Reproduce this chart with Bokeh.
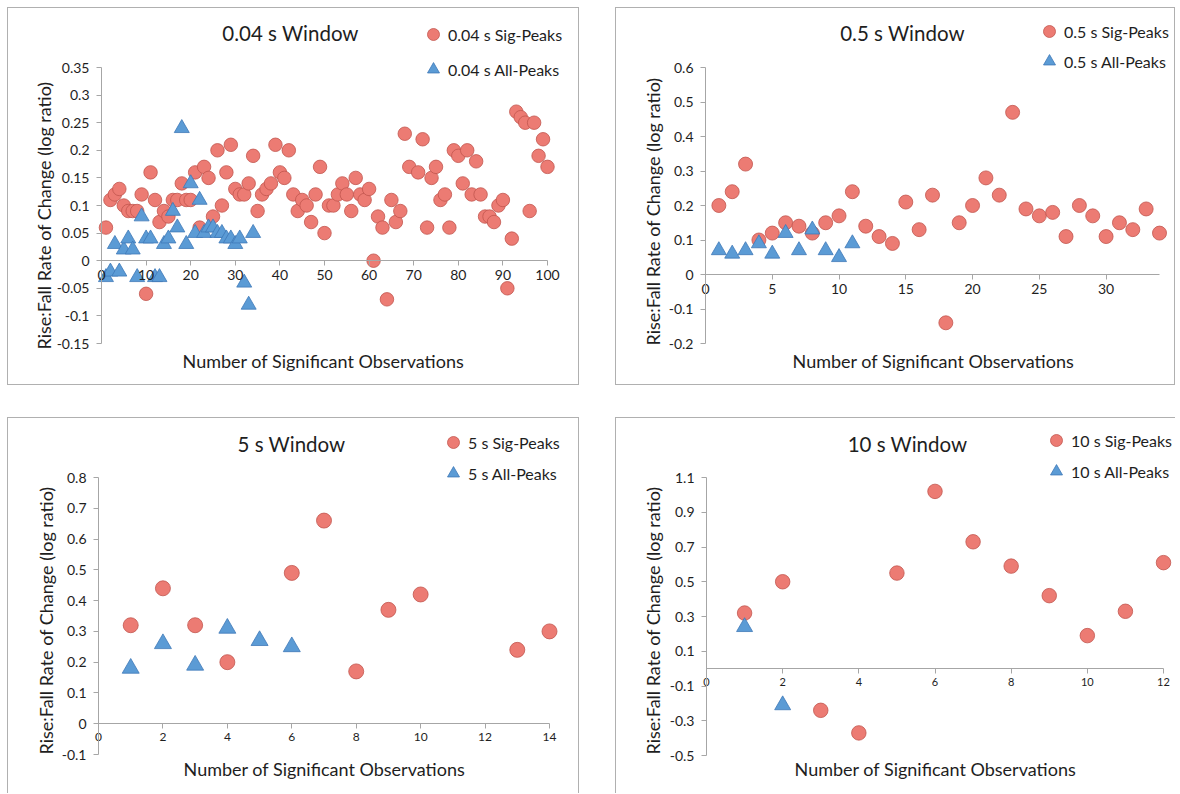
import math
from bokeh.plotting import figure
from bokeh.models import (Range1d, FixedTicker, CustomJSTickFormatter, Label,
                          Legend, LegendItem)
from bokeh.layouts import row, column
from bokeh.embed import file_html
from bokeh.resources import INLINE

FONT = "Lato"
RED_FILL = "#ec7b73"
RED_LINE = "#c2554e"
BLUE_FILL = "#5b9bd5"
BLUE_LINE = "#3f78b8"
AXIS = "#a6a6a6"
TEXT = "#1e1e1e"
BORDER = "#b0b0b0"

Y_TITLE = "Rise:Fall Rate of Change (log ratio)"
X_TITLE = "Number of Significant Observations"

# ---------------- data ----------------
# 0.04 s window
w004_sig_x = [1, 2, 3, 4, 5, 6, 7, 8, 9, 10, 11, 12, 13, 14, 15, 16, 17, 18, 19, 20,
              21, 22, 23, 24, 25, 26, 27, 28, 29, 30, 31, 32, 33, 34, 35, 36, 37, 38, 39, 40,
              41, 42, 43, 44, 45, 46, 47, 48, 49, 50, 51, 52, 53, 54, 55, 56, 57, 58, 59, 60,
              61, 62, 63, 64, 65, 66, 67, 68, 69, 71, 72, 73, 74, 75, 76, 77, 78, 79, 80,
              81, 82, 83, 84, 85, 86, 87, 88, 89, 90, 91, 92, 93, 94, 95, 96, 97, 98, 99, 100]
w004_sig_y = [0.06, 0.11, 0.12, 0.13, 0.10, 0.09, 0.09, 0.09, 0.12, -0.06,
              0.16, 0.11, 0.07, 0.09, 0.08, 0.11, 0.11, 0.14, 0.11, 0.11,
              0.16, 0.06, 0.17, 0.15, 0.08, 0.20, 0.10, 0.16, 0.21, 0.13,
              0.12, 0.12, 0.14, 0.19, 0.09, 0.12, 0.13, 0.14, 0.21, 0.16,
              0.15, 0.20, 0.12, 0.09, 0.11, 0.10, 0.07, 0.12, 0.17, 0.05,
              0.10, 0.10, 0.12, 0.14, 0.12, 0.09, 0.15, 0.12, 0.11, 0.13,
              0.00, 0.08, 0.06, -0.07, 0.11, 0.07, 0.09, 0.23, 0.17,
              0.16, 0.22, 0.06, 0.15, 0.17, 0.11, 0.12, 0.06, 0.20, 0.19,
              0.14, 0.20, 0.12, 0.18, 0.12, 0.08, 0.08, 0.07, 0.10, 0.11,
              -0.05, 0.04, 0.27, 0.26, 0.25, 0.09, 0.25, 0.19, 0.22, 0.17]
w004_all_x = [1, 2, 3, 4, 5, 6, 7, 8, 9, 10, 11, 12, 13, 14, 15, 16, 17,
              18, 19, 20, 21, 22, 23, 24, 25, 26, 27, 28, 29, 30, 31, 32, 33, 34]
w004_all_y = [-0.03, -0.02, 0.03, -0.02, 0.02, 0.04, 0.02, -0.03, 0.08, 0.04, 0.04, -0.03, -0.03, 0.03, 0.04, 0.09, 0.06,
              0.24, 0.03, 0.14, 0.05, 0.11, 0.05, 0.06, 0.06, 0.05, 0.05, 0.04, 0.04, 0.03, 0.04, -0.04, -0.08, 0.05]

# 0.5 s window
w05_sig_x = [1, 2, 3, 4, 5, 6, 7, 8, 9, 10, 11, 12, 13, 14, 15, 16, 17,
             18, 19, 20, 21, 22, 23, 24, 25, 26, 27, 28, 29, 30, 31, 32, 33, 34]
w05_sig_y = [0.20, 0.24, 0.32, 0.10, 0.12, 0.15, 0.14, 0.12, 0.15, 0.17, 0.24, 0.14, 0.11, 0.09, 0.21, 0.13, 0.23,
             -0.14, 0.15, 0.20, 0.28, 0.23, 0.47, 0.19, 0.17, 0.18, 0.11, 0.20, 0.17, 0.11, 0.15, 0.13, 0.19, 0.12]
w05_all_x = [1, 2, 3, 4, 5, 6, 7, 8, 9, 10, 11]
w05_all_y = [0.07, 0.06, 0.07, 0.09, 0.06, 0.12, 0.07, 0.13, 0.07, 0.05, 0.09]

# 5 s window
w5_sig_x = [1, 2, 3, 4, 6, 7, 8, 9, 10, 13, 14]
w5_sig_y = [0.32, 0.44, 0.32, 0.20, 0.49, 0.66, 0.17, 0.37, 0.42, 0.24, 0.30]
w5_all_x = [1, 2, 3, 4, 5, 6]
w5_all_y = [0.18, 0.26, 0.19, 0.31, 0.27, 0.25]

# 10 s window
w10_sig_x = [1, 2, 3, 4, 5, 6, 7, 8, 9, 10, 11, 12]
w10_sig_y = [0.32, 0.50, -0.24, -0.37, 0.55, 1.02, 0.73, 0.59, 0.42, 0.19, 0.33, 0.61]
w10_all_x = [1, 2]
w10_all_y = [0.24, -0.21]

# axis ticks
w004_xticks = [0, 10, 20, 30, 40, 50, 60, 70, 80, 90, 100]
w004_yticks = [-0.15, -0.1, -0.05, 0, 0.05, 0.1, 0.15, 0.2, 0.25, 0.3, 0.35]
w05_xticks = [0, 5, 10, 15, 20, 25, 30]
w05_yticks = [-0.2, -0.1, 0, 0.1, 0.2, 0.3, 0.4, 0.5, 0.6]
w5_xticks = [0, 2, 4, 6, 8, 10, 12, 14]
w5_yticks = [-0.1, 0, 0.1, 0.2, 0.3, 0.4, 0.5, 0.6, 0.7, 0.8]
w10_xticks = [0, 2, 4, 6, 8, 10, 12]
w10_yticks = [-0.5, -0.3, -0.1, 0.1, 0.3, 0.5, 0.7, 0.9, 1.1]


def make_panel(w, h, border, ax, xlim, ylim, xticks, yticks, ydigits,
               xtick_size, sig_x, sig_y, all_x, all_y, labels, title, title_pos,
               legend_pos, legend_gap, xtitle_pos, ytitle_pos, msizes):
    bt, br, bb, bl = border
    l, r, t, b = ax
    kx = (r - l) / (xlim[1] - xlim[0])
    ky = (b - t) / (ylim[1] - ylim[0])
    styles = {"box-sizing": "border-box"}
    for side, bw in (("top", bt), ("right", br), ("bottom", bb), ("left", bl)):
        if bw:
            styles["border-" + side] = f"{bw}px solid {BORDER}"
    p = figure(width=w, height=h,
               x_range=Range1d(xlim[0] - l / kx, xlim[1] + (w - r) / kx),
               y_range=Range1d(ylim[0] - (h - b) / ky, ylim[1] + t / ky),
               min_border_left=0, min_border_right=0,
               min_border_top=0, min_border_bottom=0,
               toolbar_location=None, output_backend="svg", styles=styles)
    p.background_fill_color = "white"
    p.border_fill_color = "white"
    p.outline_line_color = None
    p.xgrid.visible = False
    p.ygrid.visible = False

    xa = p.xaxis[0]
    ya = p.yaxis[0]
    xa.fixed_location = 0
    ya.fixed_location = 0
    xa.bounds = (xlim[0], xlim[1])
    ya.bounds = (ylim[0], ylim[1])
    xa.ticker = FixedTicker(ticks=xticks)
    ya.ticker = FixedTicker(ticks=yticks)
    xa.formatter = CustomJSTickFormatter(code="return String(parseFloat(tick.toFixed(0)))")
    ya.formatter = CustomJSTickFormatter(code=f"return String(parseFloat(tick.toFixed({ydigits})))")
    for a in (xa, ya):
        a.axis_line_color = AXIS
        a.major_tick_line_color = AXIS
        a.major_tick_out = 5
        a.major_tick_in = 0
        a.minor_tick_line_color = None
        a.major_label_text_font = FONT
        a.major_label_text_color = TEXT
    xa.major_label_text_font_size = xtick_size
    ya.major_label_text_font_size = "14px"
    xa.major_label_standoff = 4
    ya.major_label_standoff = 7

    csize, tsize = msizes
    rs = p.scatter(sig_x, sig_y, marker="circle", size=csize, fill_color=RED_FILL,
                   line_color=RED_LINE, line_width=0.8)
    ra = p.scatter(all_x, all_y, marker="triangle", size=tsize, fill_color=BLUE_FILL,
                   line_color=BLUE_LINE, line_width=0.8)

    gx, gy = legend_pos
    rowh = 30
    top = gy - rowh / 2
    bottom = top + 2 * rowh + legend_gap
    leg = Legend(items=[LegendItem(label=labels[0], renderers=[rs]),
                        LegendItem(label=labels[1], renderers=[ra])],
                 location=(gx - rowh / 2, h - bottom), orientation="vertical",
                 border_line_color=None, background_fill_alpha=0,
                 padding=0, margin=0, spacing=legend_gap,
                 glyph_width=rowh, glyph_height=rowh, label_height=rowh,
                 label_standoff=0, label_text_font=FONT, label_text_font_size="16px",
                 label_text_color=TEXT, label_text_baseline="middle")
    p.add_layout(leg)

    def lab(text, pos, size, angle=0.0):
        x, y = pos
        p.add_layout(Label(x=x, y=h - y, x_units="screen", y_units="screen",
                           text=text, text_align="center", text_baseline="middle",
                           angle=angle,
                           text_font=FONT, text_font_size=size, text_color=TEXT))

    lab(title, title_pos, "20.5px")
    lab(X_TITLE, xtitle_pos, "18px")
    lab(Y_TITLE, ytitle_pos, "18px", math.pi / 2)
    return p


p1 = make_panel(572, 378, (1, 1, 1, 1), (93, 539, 59, 335), (0, 100), (-0.15, 0.35),
                w004_xticks, w004_yticks, 2, "14px",
                w004_sig_x, w004_sig_y, w004_all_x, w004_all_y,
                ("0.04 s Sig-Peaks", "0.04 s All-Peaks"), "0.04 s Window",
                (282, 24), (425, 26), 5, (315, 352), (35, 207), (13.5, 15))
p2 = make_panel(560, 378, (1, 1, 1, 1), (89, 543, 59, 335), (0, 34), (-0.2, 0.6),
                w05_xticks, w05_yticks, 1, "14px",
                w05_sig_x, w05_sig_y, w05_all_x, w05_all_y,
                ("0.5 s Sig-Peaks", "0.5 s All-Peaks"), "0.5 s Window",
                (286, 24), (433, 23), 0, (317, 352), (36, 203), (14, 15))
p3 = make_panel(572, 376, (1, 1, 0, 1), (90, 541, 59, 336), (0, 14), (-0.1, 0.8),
                w5_xticks, w5_yticks, 1, "12px",
                w5_sig_x, w5_sig_y, w5_all_x, w5_all_y,
                ("5 s Sig-Peaks", "5 s All-Peaks"), "5 s Window",
                (283, 25), (445, 24), 1, (316, 350), (37, 202), (15, 17))
p4 = make_panel(560, 376, (1, 0, 0, 1), (90, 547, 59, 337), (0, 12), (-0.5, 1.1),
                w10_xticks, w10_yticks, 1, "11px",
                w10_sig_x, w10_sig_y, w10_all_x, w10_all_y,
                ("10 s Sig-Peaks", "10 s All-Peaks"), "10 s Window",
                (291, 25), (440, 22), 1, (319, 350), (36, 202), (14.5, 16))

layout = column(row(p1, p2, spacing=36), row(p3, p4, spacing=36), spacing=32,
                margin=(7, 0, 0, 7))

open("out.html", "w").write(file_html(layout, INLINE))
